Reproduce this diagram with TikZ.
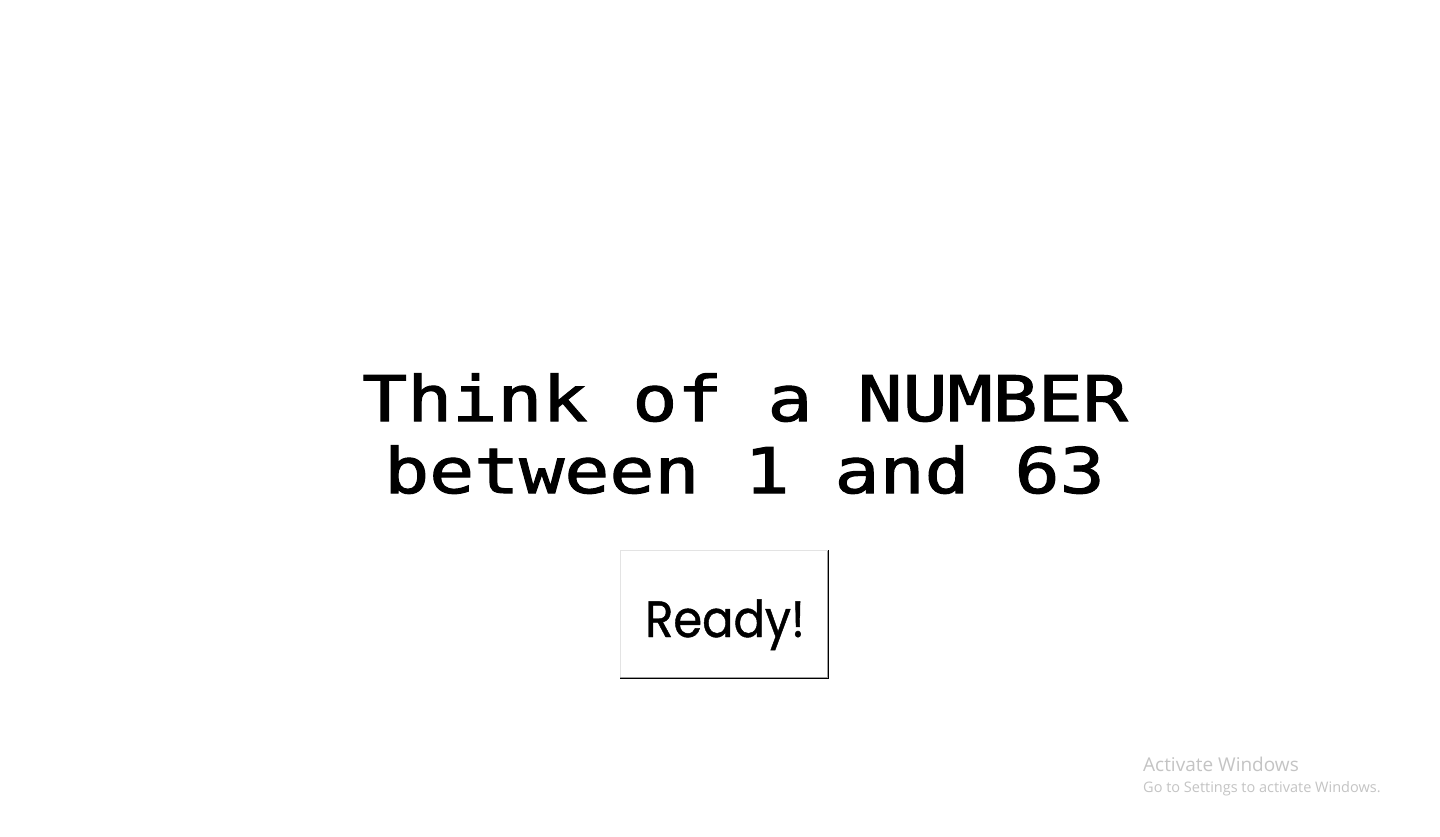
\documentclass[tikz,border=0pt]{standalone}
\usepackage{fontspec}
\newfontfamily\monofnt[FakeBold=1.6]{DejaVu Sans Mono}
\newfontfamily\btnfnt[FakeBold=0.9]{Poppins}
\newfontfamily\wmfnt{Open Sans}
\definecolor{wmgray}{RGB}{196,196,196}
\definecolor{btnlight}{RGB}{227,227,227}
\definecolor{btnmid}{RGB}{160,160,160}
\tikzset{
  headline/.style={inner sep=0pt, anchor=base, font=\monofnt\fontsize{74.8}{74.8}\selectfont},
  wmtext/.style={inner sep=0pt, anchor=base west, text=wmgray},
}
\begin{document}
\begin{tikzpicture}[x=1pt,y=-1pt]
\useasboundingbox[fill=white] (0,0) rectangle (1440,836);
\node[headline] (l1) at (745,421) {\scalebox{1}[0.84]{Think of a NUMBER}};
\node[headline] (l2) at (744.5,493) {\scalebox{1}[0.84]{between 1 and 63}};
% button
\node[minimum width=208pt, minimum height=128pt, inner sep=0pt, fill=white] (ready) at (724.5,614.5) {};
\node[inner sep=0pt, anchor=base, font=\btnfnt\fontsize{51}{51}\selectfont] (readytxt) at (725,637) {\scalebox{0.91}[1]{Ready!}};
\draw[btnlight, line width=1pt] ([xshift=0.5pt]ready.south west) -- ([xshift=0.5pt,yshift=-0.5pt]ready.north west) -- ([yshift=-0.5pt]ready.north east);
\draw[btnmid, line width=1pt] ([xshift=-1.5pt,yshift=-0.5pt]ready.north east) -- ([xshift=-1.5pt,yshift=1.5pt]ready.south east) -- ([yshift=1.5pt]ready.south west);
\draw[black, line width=1pt] ([xshift=-0.5pt]ready.north east) -- ([xshift=-0.5pt,yshift=0.5pt]ready.south east) -- ([yshift=0.5pt]ready.south west);
% watermark
\node[wmtext, font=\wmfnt\fontsize{19}{19}\selectfont] (wm1) at (1143,771) {Activate Windows};
\node[wmtext, font=\wmfnt\fontsize{14.5}{14.5}\selectfont] (wm2) at (1143,792) {Go to Settings to activate Windows.};
\end{tikzpicture}
\end{document}
